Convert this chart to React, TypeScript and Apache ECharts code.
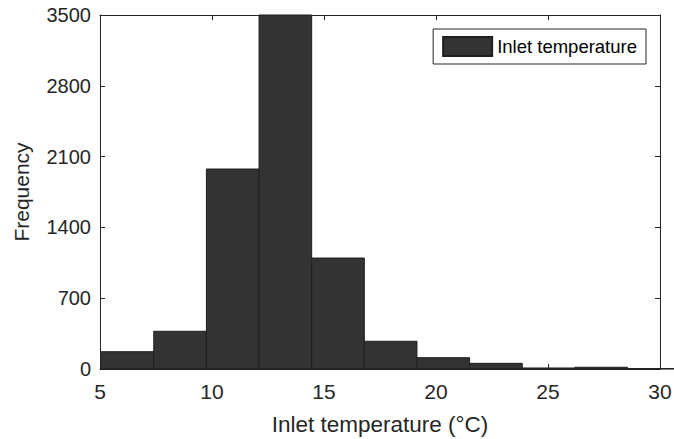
import React, { useEffect, useRef } from "react";
import * as echarts from "echarts";

const binEdges = [5.05, 7.4, 9.75, 12.1, 14.45, 16.8, 19.15, 21.5, 23.85, 26.2, 28.55];
const binWidth = 2.35;
const counts = [171, 373, 1977, 3500, 1097, 274, 112, 56, 10, 17, 4];
const xTicks = [5, 10, 15, 20, 25, 30];
const yTicks = [0, 700, 1400, 2100, 2800, 3500];
const seriesName = "Inlet temperature";

const TXT = "#262626";
const FONT = "Liberation Sans, Arial, Helvetica, sans-serif";

export default function App() {
  const ref = useRef<HTMLDivElement>(null);
  useEffect(() => {
    const chart = echarts.init(ref.current!, null, { renderer: "svg" });
    const data = binEdges.map((s, i) => [s, s + binWidth, counts[i]]);
    const axisCommon = {
      axisLine: { show: true, onZero: false, lineStyle: { color: TXT, width: 1 } },
      axisTick: { show: true, inside: true, length: 5, lineStyle: { color: TXT } },
      splitLine: { show: false },
    };
    chart.setOption({
      animation: false,
      backgroundColor: "#ffffff",
      textStyle: { fontFamily: FONT },
      grid: { left: 100, right: 14, top: 15, bottom: 70, containLabel: false, outerBoundsMode: "none" },
      legend: {
        data: [{ name: seriesName, icon: "rect" }],
        right: 28,
        top: 29,
        itemWidth: 49,
        itemHeight: 19,
        itemGap: 0,
        borderColor: TXT,
        borderWidth: 1,
        borderRadius: 0,
        padding: [7, 9, 7, 9],
        textStyle: { color: "#000", fontSize: 18.5, fontFamily: FONT },
        selectedMode: false,
      },
      xAxis: [
        {
          type: "value",
          min: 5,
          max: 30,
          interval: 5,
          position: "bottom",
          name: "Inlet temperature (°C)",
          nameLocation: "middle",
          nameGap: 44,
          nameTextStyle: { color: TXT, fontSize: 22.5, fontFamily: FONT },
          axisLabel: {
            color: TXT,
            fontSize: 21,
            margin: 12,
            fontFamily: FONT,
            formatter: (v: number) => (xTicks.includes(v) ? String(v) : ""),
          },
          ...axisCommon,
        },
        {
          type: "value",
          min: 5,
          max: 30,
          interval: 5,
          position: "top",
          axisLabel: { show: false },
          ...axisCommon,
        },
      ],
      yAxis: [
        {
          type: "value",
          min: 0,
          max: 3500,
          interval: 700,
          position: "left",
          name: "Frequency",
          nameLocation: "middle",
          nameGap: 68,
          nameTextStyle: { color: TXT, fontSize: 21, fontFamily: FONT },
          axisLabel: {
            color: TXT,
            fontSize: 20,
            margin: 9,
            fontFamily: FONT,
            formatter: (v: number) => (yTicks.includes(v) ? String(v) : ""),
          },
          ...axisCommon,
        },
        {
          type: "value",
          min: 0,
          max: 3500,
          interval: 700,
          position: "right",
          axisLabel: { show: false },
          ...axisCommon,
        },
      ],
      series: [
        {
          name: seriesName,
          type: "custom",
          xAxisIndex: 0,
          yAxisIndex: 0,
          itemStyle: { color: "#333333", borderColor: "#1f1f1f", borderWidth: 1 },
          renderItem: (params: any, api: any) => {
            const p0 = api.coord([api.value(0), 0]);
            const p1 = api.coord([api.value(1), api.value(2)]);
            return {
              type: "rect",
              shape: { x: p0[0], y: p1[1], width: p1[0] - p0[0], height: p0[1] - p1[1] },
              style: { fill: "#333333", stroke: "#1f1f1f", lineWidth: 1 },
            };
          },
          encode: { x: [0, 1], y: 2 },
          data,
          z: 1,
        },
      ],
    });
    return () => chart.dispose();
  }, []);
  return <div ref={ref} style={{ width: 674, height: 439, position: "absolute", left: 0, top: 0 }} />;
}
